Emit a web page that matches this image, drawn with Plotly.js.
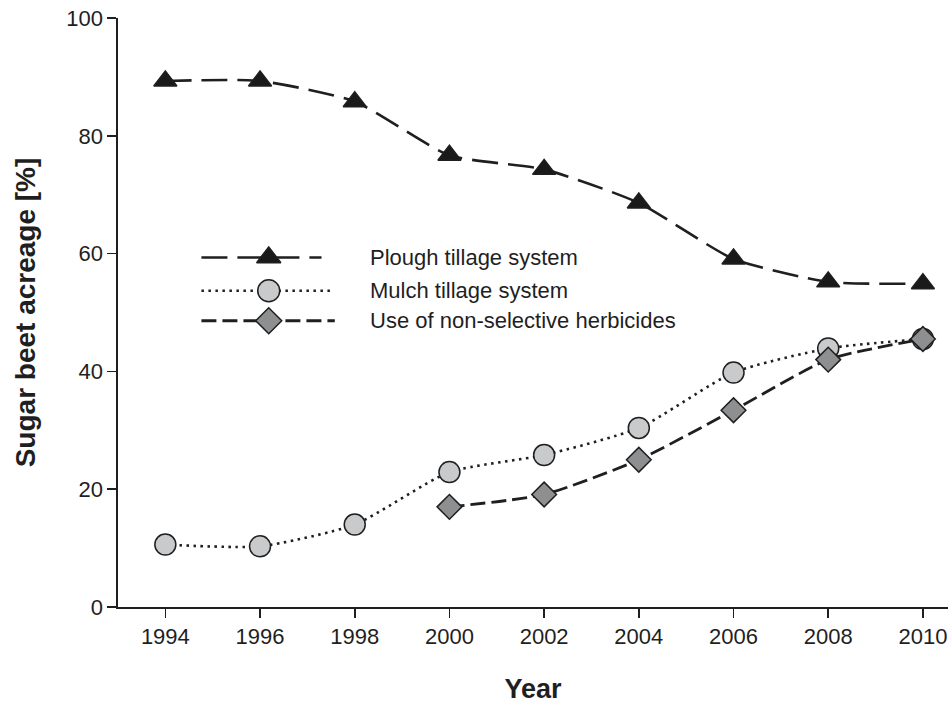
<!DOCTYPE html>
<html>
<head>
<meta charset="utf-8">
<script src="https://cdn.plot.ly/plotly-3.0.1.min.js"></script>
<style>
  html, body { margin: 0; padding: 0; background: #fff; }
  #chart { width: 948px; height: 704px; }
</style>
</head>
<body>
<div id="chart"></div>
<script>
// ---- data ----
const years = [1994, 1996, 1998, 2000, 2002, 2004, 2006, 2008, 2010];
const plough = [89.3, 89.3, 85.8, 76.7, 74.3, 68.6, 59.1, 55.2, 54.9];
const mulch = [10.6, 10.3, 14.0, 22.9, 25.8, 30.4, 39.8, 43.9, 45.5];
const herbYears = [2000, 2002, 2004, 2006, 2008, 2010];
const herbicides = [17.0, 19.1, 25.0, 33.4, 42.0, 45.5];
const seriesNames = ["Plough tillage system", "Mulch tillage system", "Use of non-selective herbicides"];
const xTicks = [1994, 1996, 1998, 2000, 2002, 2004, 2006, 2008, 2010];
const yTicks = [0, 20, 40, 60, 80, 100];

// ---- styles ----
const FONT = "Liberation Sans, Arial, Helvetica, sans-serif";
const INK = "#1f1f1f";
const styles = [
  { dash: "26px,10px", width: 2.6, symbol: "triangle-up", size: 20, fill: "#1a1a1a" },
  { dash: "2.5px,4.5px", width: 2.6, symbol: "circle", size: 21, fill: "#c9cacc" },
  { dash: "15px,6px", width: 2.8, symbol: "diamond", size: 19, fill: "#8e8f91" }
];

function seriesTrace(x, y, st, name) {
  return {
    x: x, y: y, name: name, type: "scatter", mode: "lines+markers",
    line: { color: INK, width: st.width, dash: st.dash, shape: "spline", smoothing: 0.6 },
    marker: { symbol: st.symbol, size: st.size, color: st.fill, line: { color: INK, width: 1.5 } },
    showlegend: false, hoverinfo: "x+y+name"
  };
}

const traces = [
  seriesTrace(years, plough, styles[0], seriesNames[0]),
  seriesTrace(years, mulch, styles[1], seriesNames[1]),
  seriesTrace(herbYears, herbicides, styles[2], seriesNames[2])
];

// ---- hand-made legend (long line keys, on a hidden 0..1 overlay axis) ----
const legendRows = [0.5935, 0.537, 0.486];
const legendLineStart = 0.1005;
const legendLineEnd = [0.2452, 0.2591, 0.2612];
const legendMarkerX = 0.1816;
const legendTextX = 0.301;
const annotations = [];
for (let i = 0; i < 3; i++) {
  const st = styles[i];
  traces.push({
    x: [legendLineStart, legendLineEnd[i]], y: [legendRows[i], legendRows[i]],
    xaxis: "x2", yaxis: "y2", type: "scatter", mode: "lines",
    line: { color: INK, width: st.width, dash: st.dash },
    showlegend: false, hoverinfo: "skip"
  });
  traces.push({
    x: [legendMarkerX], y: [legendRows[i]],
    xaxis: "x2", yaxis: "y2", type: "scatter", mode: "markers",
    marker: { symbol: st.symbol, size: st.size + 1, color: st.fill, line: { color: INK, width: 1.5 } },
    showlegend: false, hoverinfo: "skip"
  });
  annotations.push({
    xref: "x2", yref: "y2", x: legendTextX, y: legendRows[i],
    xanchor: "left", yanchor: "middle", showarrow: false,
    text: seriesNames[i], font: { family: FONT, size: 22, color: INK }
  });
}

const layout = {
  width: 948, height: 704,
  margin: { l: 118, r: 0, t: 18, b: 97 },
  paper_bgcolor: "#ffffff", plot_bgcolor: "#ffffff",
  font: { family: FONT, size: 22, color: INK },
  showlegend: false,
  xaxis: {
    range: [1993.0, 2010.53], tickvals: xTicks, ticktext: xTicks.map(String),
    showgrid: false, zeroline: false, showline: true, linecolor: INK, linewidth: 1.6,
    ticks: "outside", ticklen: 9, tickwidth: 1.6, tickcolor: INK,
    tickfont: { family: FONT, size: 22, color: INK },
    title: { text: "Year", font: { family: FONT, size: 27, color: INK, weight: "bold" }, standoff: 32 }
  },
  yaxis: {
    range: [0, 100], tickvals: yTicks, ticktext: yTicks.map(String),
    showgrid: false, zeroline: false, showline: true, linecolor: INK, linewidth: 1.6,
    ticks: "outside", ticklen: 9, tickwidth: 1.6, tickcolor: INK,
    tickfont: { family: FONT, size: 22, color: INK },
    title: { text: "Sugar beet acreage [%]", font: { family: FONT, size: 28, color: INK, weight: "bold" }, standoff: 22 }
  },
  xaxis2: { overlaying: "x", range: [0, 1], visible: false, fixedrange: true },
  yaxis2: { overlaying: "y", range: [0, 1], visible: false, fixedrange: true },
  annotations: annotations
};

Plotly.newPlot("chart", traces, layout, { displayModeBar: false, staticPlot: true });
</script>
</body>
</html>
